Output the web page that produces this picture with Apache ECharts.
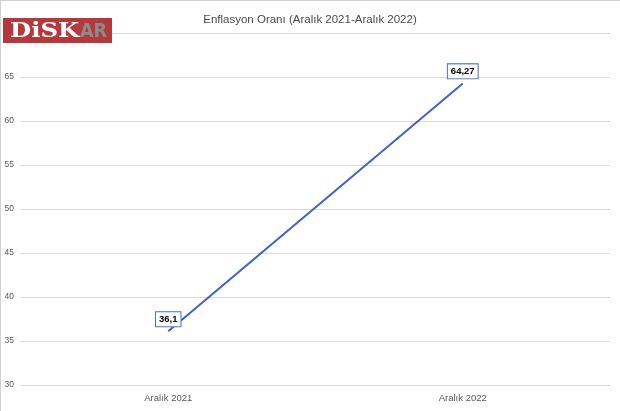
<!DOCTYPE html>
<html><head><meta charset="utf-8">
<script src="https://cdn.jsdelivr.net/npm/echarts@6/dist/echarts.min.js"></script>
<style>html,body{margin:0;padding:0;background:#fff}#c{width:620px;height:411px}</style>
</head><body><div id="c"></div>
<script>
const titleText = 'Enflasyon Oranı (Aralık 2021-Aralık 2022)';
const categories = ['Aralık 2021', 'Aralık 2022'];
const values = [36.1, 64.27];
const valueLabels = ['36,1', '64,27'];
const yTicks = [30, 35, 40, 45, 50, 55, 60, 65, 70];

const chart = echarts.init(document.getElementById('c'), null, {renderer: 'canvas'});
chart.setOption({
  backgroundColor: '#fff',
  animation: false,
  title: {
    text: titleText, left: 'center', top: 9,
    textStyle: {fontFamily: 'Liberation Sans', fontSize: 11.5, fontWeight: 'normal', color: '#4a4a4a'}
  },
  grid: {left: 21, right: 10, top: 33, bottom: 26},
  xAxis: {
    type: 'category', data: categories, boundaryGap: true,
    axisLine: {show: false}, axisTick: {show: false},
    axisLabel: {color: '#595959', fontSize: 9.5, fontFamily: 'Liberation Sans', margin: 8}
  },
  yAxis: {
    type: 'value', min: yTicks[0], max: yTicks[yTicks.length - 1], interval: 5,
    axisLine: {show: false}, axisTick: {show: false},
    axisLabel: {color: '#595959', fontSize: 8.5, fontFamily: 'Liberation Sans', margin: 7},
    splitLine: {lineStyle: {color: '#d9d9d9', width: 1}}
  },
  series: [{
    type: 'line', data: values, symbol: 'circle', symbolSize: 0.1,
    itemStyle: {color: '#3f63c2'},
    lineStyle: {color: '#3f63c2', width: 2},
    label: {
      show: true, position: 'top', distance: 5,
      formatter: p => valueLabels[p.dataIndex],
      color: '#000', fontWeight: 'bold', fontSize: 9.5, fontFamily: 'Liberation Sans',
      backgroundColor: '#fff', borderColor: '#4472C4', borderWidth: 1,
      padding: [2, 3, 1, 3], lineHeight: 11
    }
  }],
  graphic: [
    {type: 'line', shape: {x1: 0, y1: 0.5, x2: 620, y2: 0.5}, style: {stroke: '#d0d0d0', lineWidth: 1}, z: 100},
    {type: 'line', shape: {x1: 0.5, y1: 0, x2: 0.5, y2: 411}, style: {stroke: '#d0d0d0', lineWidth: 1}, z: 100},
    {type: 'rect', shape: {x: 3, y: 18, width: 109, height: 25}, style: {fill: '#b5393b'}, z: 100},
    {type: 'text', x: 10, y: 22, scaleX: 1.22, z: 101, style: {
      text: 'DiSK', fontFamily: 'DejaVu Serif', fontWeight: 'bold', fontSize: 20, fill: '#fff'
    }},
    {type: 'text', x: 80, y: 22, scaleX: 0.88, z: 101, style: {
      text: 'AR', fontFamily: 'DejaVu Sans', fontWeight: 'bold', fontSize: 20, fill: '#8c8c8c'
    }}
  ]
});
</script></body></html>
